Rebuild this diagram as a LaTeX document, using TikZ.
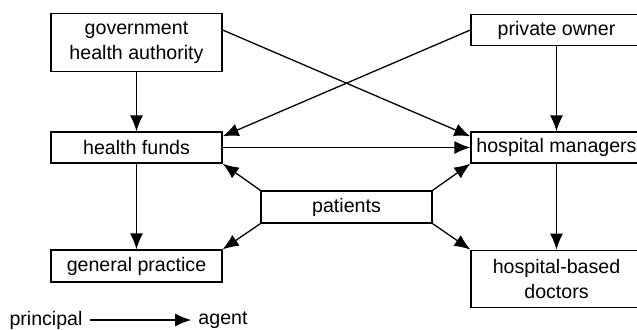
\documentclass[tikz,border=0pt]{standalone}
\usepackage{fontspec}
\setmainfont{Liberation Sans}
\usetikzlibrary{arrows.meta}

\begin{document}
\begin{tikzpicture}[x=0.5pt, y=-0.5pt, line width=0.65pt,
    actor/.style={draw, minimum width=85.5pt, minimum height=15.5pt, inner sep=0pt,
                  align=center, font=\fontsize{9.8}{12.5}\selectfont},
    tall/.style={minimum height=28.75pt},
    link/.style={-{Latex[length=8pt, width=6.5pt]}}]
        \clip (0,0) rectangle (637,329);

        % Draw the boxes
        \node[actor, tall] (gov) at (136.5,42.5) {government\\health authority};
        \node[actor] (owner) at (556.5,30) {private owner};
        \node[actor] (funds) at (136.5,147.5) {health funds};
        \node[actor] (managers) at (556.5,147.5) {hospital managers};
        \node[actor, minimum height=16pt] (patients) at (346.5,207) {patients};
        \node[actor, minimum height=16pt] (practice) at (136.5,266) {general practice};
        \node[actor, tall] (doctors) at (556.5,279) {hospital-based\\doctors};

        % Principal to agent links
        \draw[link] (gov) -- (funds);
        \draw[link] (owner) -- (managers);
        \draw[link] (funds) -- (practice);
        \draw[link] (managers) -- (doctors);
        \draw[link] (funds) -- (managers);
        \draw[link] ([yshift=6.25pt]gov.east) -- ([yshift=-2.5pt]managers.north west);
        \draw[link] (owner.west) -- ([yshift=-2.5pt]funds.north east);

        % Patients as principal
        \draw[link] (patients.north west) -- (funds.south east);
        \draw[link] (patients.south west) -- (practice.north east);
        \draw[link] (patients.north east) -- (managers.south west);
        \draw[link] (patients.south east) -- (doctors.north west);

        % Legend
        \node[font=\fontsize{9.8}{12.5}\selectfont] (principal) at (46,320) {principal};
        \node[font=\fontsize{9.8}{12.5}\selectfont] (agent) at (223,320) {agent};
        \draw[link] (principal) -- (agent);
\end{tikzpicture}
\end{document}
